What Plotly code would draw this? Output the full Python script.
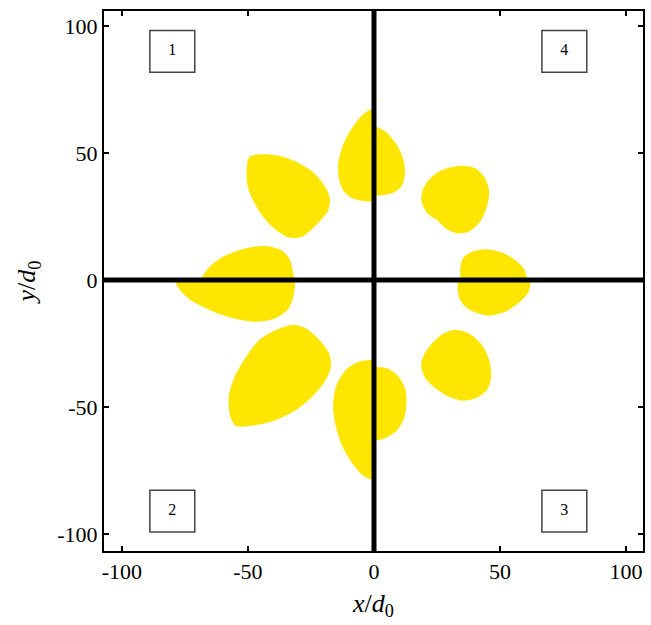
import numpy as np
import plotly.graph_objects as go

# Outlines of the eight lobes (x/d0, y/d0); lobes cut by an axis are stored as two halves
lobe_upper_left_x = [-49.4, -42.8, -36.2, -29.6, -24.4, -19.8, -17.5, -18.1, -21.1, -25.7, -29.0, -33.6, -38.9, -43.5, -47.4, -50.1, -50.5]
lobe_upper_left_y = [48.5, 49.5, 48.5, 45.9, 42.6, 37.4, 32.2, 27.6, 23.6, 19.0, 16.8, 16.7, 19.7, 24.3, 30.2, 36.7, 43.3]

lobe_top_west_x = [0, -1.3, -5.3, -9.2, -12.5, -14.2, -13.8, -11.9, -8.6, -4.6, 0]
lobe_top_west_y = [67.5, 67.2, 64.3, 59.1, 52.5, 45.9, 39.4, 34.8, 32.2, 31.2, 31.2]
lobe_top_east_x = [0, 4.6, 8.6, 11.5, 12.3, 11.2, 8.6, 5.3, 0]
lobe_top_east_y = [60.3, 58.4, 53.8, 47.9, 42.6, 37.4, 34.8, 33.7, 33.7]

lobe_upper_right_x = [21.7, 27.0, 34.9, 40.2, 44.1, 45.7, 44.8, 42.2, 37.5, 32.9, 28.3, 25.0, 21.1, 18.9, 19.1]
lobe_upper_right_y = [39.4, 43.3, 45.0, 44.0, 40.0, 34.8, 28.9, 23.0, 19.0, 18.4, 20.4, 23.6, 26.3, 30.8, 34.8]

lobe_right_north_x = [34.7, 34.3, 35.2, 38.9, 44.1, 50.7, 56.0, 59.3, 60.6]
lobe_right_north_y = [0, 5.2, 8.5, 11.1, 12.1, 10.8, 7.9, 4.6, 0]
lobe_right_south_x = [33.6, 33.6, 35.6, 39.5, 45.5, 52.1, 58.0, 61.3, 61.9]
lobe_right_south_y = [0, -6.6, -9.8, -12.5, -14.0, -12.5, -8.5, -4.6, 0]

lobe_lower_right_x = [23.1, 27.7, 32.3, 37.5, 42.8, 45.7, 46.5, 44.8, 40.2, 34.9, 29.6, 24.4, 20.4, 18.7, 19.8]
lobe_lower_right_y = [-24.9, -21.0, -19.7, -21.0, -25.6, -31.5, -38.1, -43.3, -46.6, -47.5, -45.9, -42.6, -38.7, -33.5, -29.5]

lobe_bottom_west_x = [0, -5.9, -11.2, -15.1, -16.2, -15.1, -12.5, -8.6, -4.6, -1.3, 0]
lobe_bottom_west_y = [-31.9, -32.2, -35.4, -42.0, -49.9, -57.8, -65.6, -72.2, -76.8, -78.5, -78.5]
lobe_bottom_east_x = [0, 5.3, 9.2, 12.3, 12.9, 11.9, 9.2, 5.3, 0]
lobe_bottom_east_y = [-34.5, -34.8, -37.4, -42.6, -48.5, -54.5, -59.1, -61.9, -63.0]

lobe_lower_left_x = [-38.9, -32.3, -27.0, -21.7, -17.8, -17.1, -19.1, -24.4, -30.9, -38.9, -46.8, -54.7, -57.0, -57.6, -55.3, -50.7, -45.5]
lobe_lower_left_y = [-19.7, -17.7, -19.0, -23.6, -28.9, -34.1, -39.4, -45.9, -51.2, -55.1, -57.1, -57.5, -53.8, -45.9, -38.1, -30.2, -23.6]

lobe_left_north_x = [-68.5, -65.2, -58.6, -50.7, -42.8, -36.9, -33.6, -32.3, -32.0]
lobe_left_north_y = [0, 5.2, 9.8, 12.5, 13.4, 11.8, 8.5, 3.9, 0]
lobe_left_south_x = [-79.0, -76.4, -71.8, -65.2, -57.3, -48.1, -40.2, -34.3, -32.0, -31.7]
lobe_left_south_y = [0, -4.6, -8.5, -11.8, -14.7, -16.4, -15.5, -11.8, -6.6, 0]

# Quadrant labels and their positions
quadrant_labels = ["1", "4", "2", "3"]
quadrant_x = [-80, 75.5, -80, 75.5]
quadrant_y = [90, 90, -91, -91]

# Axis ticks
tick_vals = [-100, -50, 0, 50, 100]
tick_text = ["-100", "-50", "0", "50", "100"]

YELLOW = "#FFE600"
FONT = "Liberation Serif"

whole_lobes = [
    (lobe_upper_left_x, lobe_upper_left_y),
    (lobe_upper_right_x, lobe_upper_right_y),
    (lobe_lower_right_x, lobe_lower_right_y),
    (lobe_lower_left_x, lobe_lower_left_y),
]
half_lobes = [
    (lobe_top_west_x, lobe_top_west_y),
    (lobe_top_east_x, lobe_top_east_y),
    (lobe_right_north_x, lobe_right_north_y),
    (lobe_right_south_x, lobe_right_south_y),
    (lobe_bottom_west_x, lobe_bottom_west_y),
    (lobe_bottom_east_x, lobe_bottom_east_y),
    (lobe_left_north_x, lobe_left_north_y),
    (lobe_left_south_x, lobe_left_south_y),
]


def closed(xs, ys, straight_close=False):
    """Close an outline; half lobes get a straight cut edge along the axis."""
    xs, ys = list(xs), list(ys)
    if straight_close:
        t = np.linspace(0, 1, 8)[1:]
        xs += list(xs[-1] + (xs[0] - xs[-1]) * t)
        ys += list(ys[-1] + (ys[0] - ys[-1]) * t)
    else:
        xs.append(xs[0])
        ys.append(ys[0])
    return xs, ys


fig = go.Figure()
for (xs, ys), cut in [(l, False) for l in whole_lobes] + [(l, True) for l in half_lobes]:
    cx, cy = closed(xs, ys, cut)
    fig.add_trace(go.Scatter(
        x=cx, y=cy, mode="lines", fill="toself",
        fillcolor=YELLOW, line=dict(width=0, color=YELLOW, shape="spline", smoothing=0.8),
        hoverinfo="skip", showlegend=False,
    ))

x_range = [-107.1, 106.7]
y_range = [-106.7, 105.9]

# Thick black axes through the origin, drawn over the lobes
fig.add_trace(go.Scatter(x=x_range, y=[0, 0], mode="lines",
                         line=dict(color="black", width=5), showlegend=False, hoverinfo="skip"))
fig.add_trace(go.Scatter(x=[0, 0], y=y_range, mode="lines",
                         line=dict(color="black", width=5), showlegend=False, hoverinfo="skip"))

# Boxed quadrant numbers: frames sit under the traces, numbers are a text trace on top
box_half_w, box_half_h = 8.9, 8.2
for qx, qy in zip(quadrant_x, quadrant_y):
    fig.add_shape(type="rect", xref="x", yref="y",
                  x0=qx - box_half_w, x1=qx + box_half_w,
                  y0=qy - box_half_h, y1=qy + box_half_h,
                  line=dict(color="#444444", width=1.5), fillcolor="white", layer="below")
fig.add_trace(go.Scatter(
    x=quadrant_x, y=quadrant_y, text=quadrant_labels, mode="text",
    textposition="middle center", textfont=dict(family=FONT, size=16, color="black"),
    hoverinfo="skip", showlegend=False,
))

axis_common = dict(
    showline=True, linecolor="black", linewidth=2, mirror="ticks",
    ticks="inside", ticklen=5, tickwidth=1.5, tickcolor="black",
    tickvals=tick_vals, ticktext=tick_text,
    tickfont=dict(family=FONT, size=22, color="black"),
    showgrid=False, zeroline=False,
)

fig.update_xaxes(range=x_range, title=dict(text="<i>x</i>/<i>d</i><sub>0</sub>",
                 font=dict(family=FONT, size=26, color="black"), standoff=10),
                 **axis_common)
fig.update_yaxes(range=y_range, title=dict(text="<i>y</i>/<i>d</i><sub>0</sub>",
                 font=dict(family=FONT, size=26, color="black"), standoff=14),
                 **axis_common)

fig.update_layout(
    width=651, height=625,
    margin=dict(l=104, r=6, t=11, b=74),
    plot_bgcolor="white", paper_bgcolor="white",
)

fig.write_html("out.html")
